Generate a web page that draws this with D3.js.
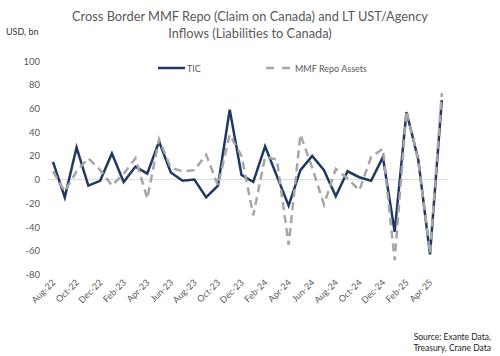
<!DOCTYPE html>
<html><head><meta charset="utf-8">
<script src="https://cdn.jsdelivr.net/npm/d3@7"></script>
<style>body{margin:0;background:#fff}svg{display:block}text{font-family:Lato,"Open Sans",sans-serif}</style>
</head><body><svg id="c" width="500" height="356"></svg>
<script>
const months = ["Aug-22","Sep-22","Oct-22","Nov-22","Dec-22","Jan-23","Feb-23","Mar-23","Apr-23","May-23","Jun-23","Jul-23","Aug-23","Sep-23","Oct-23","Nov-23","Dec-23","Jan-24","Feb-24","Mar-24","Apr-24","May-24","Jun-24","Jul-24","Aug-24","Sep-24","Oct-24","Nov-24","Dec-24","Jan-25","Feb-25","Mar-25","Apr-25","May-25"];
const tic = [15,-15,27,-5,-1,22,-2,11,5,32,6,-1,0,-15,-5,59,4,-2,28,3,-22,8,20,8,-14,7,2,-1,19,-44,57,17,-63,67];
const mmf = [7,-10,7,18,8,-5,5,18,-16,34,10,7,8,21,-5,38,20,-30,19,17,-55,38,10,-21,9,1,-9,19,26,-68,58,16,-62,73];
const yTicks = [100,80,60,40,20,0,-20,-40,-60,-80];
const xLabels = months.filter((m,i)=>i%2===0);

const svg = d3.select("#c");
const grey = "#595959";
const x = d3.scalePoint().domain(months).range([53, 441.8]);
const y = d3.scaleLinear().domain([-80,100]).range([274.5, 61]);

// title
svg.append("text").attr("x",250).attr("y",21).attr("text-anchor","middle").attr("font-size",12.8).attr("fill",grey)
  .text("Cross Border MMF Repo (Claim on Canada) and LT UST/Agency");
svg.append("text").attr("x",250).attr("y",38).attr("text-anchor","middle").attr("font-size",12.8).attr("fill",grey)
  .text("Inflows (Liabilities to Canada)");
svg.append("text").attr("x",6).attr("y",35).attr("font-size",9).attr("fill","#333").text("USD, bn");

// y axis labels
svg.append("g").selectAll("text").data(yTicks).join("text")
  .attr("x",40).attr("y",d=>y(d)+3.5).attr("text-anchor","end").attr("font-size",9.5).attr("fill",grey).text(d=>d);

// zero line
svg.append("line").attr("x1",47).attr("x2",448).attr("y1",y(0)).attr("y2",y(0)).attr("stroke","#d9d9d9").attr("stroke-width",1);

// x labels
svg.append("g").selectAll("text").data(xLabels).join("text")
  .attr("transform",d=>`translate(${x(d)+3},${283}) rotate(-45)`)
  .attr("text-anchor","end").attr("font-size",9).attr("fill",grey).text(d=>d);

const line = d3.line().x((d,i)=>x(months[i])).y(d=>y(d));
svg.append("path").datum(tic).attr("d",line).attr("fill","none").attr("stroke","#203864").attr("stroke-width",2.5)
  .attr("stroke-linejoin","miter");
svg.append("path").datum(mmf).attr("d",line).attr("fill","none").attr("stroke","#a6a6a6").attr("stroke-width",2.5)
  .attr("stroke-dasharray","8,5");

// legend
svg.append("line").attr("x1",158).attr("x2",185).attr("y1",68).attr("y2",68).attr("stroke","#203864").attr("stroke-width",2.5);
svg.append("text").attr("x",187).attr("y",71.5).attr("font-size",9).attr("fill",grey).text("TIC");
svg.append("line").attr("x1",266).attr("x2",292).attr("y1",68).attr("y2",68).attr("stroke","#a6a6a6").attr("stroke-width",2.5).attr("stroke-dasharray","8,8");
svg.append("text").attr("x",295).attr("y",71.5).attr("font-size",9).attr("fill",grey).text("MMF Repo Assets");

// source
svg.append("text").attr("x",491).attr("y",340).attr("text-anchor","end").attr("font-size",8.5).attr("fill","#222").text("Source: Exante Data,");
svg.append("text").attr("x",491).attr("y",351).attr("text-anchor","end").attr("font-size",8.5).attr("fill","#222").text("Treasury, Crane Data");
</script></body></html>
